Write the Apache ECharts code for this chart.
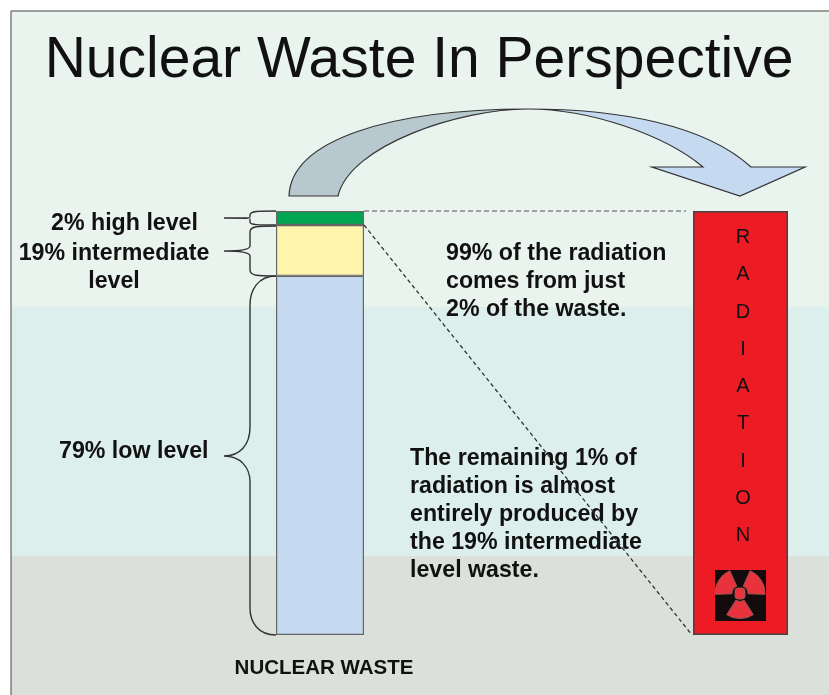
<!DOCTYPE html>
<html>
<head>
<meta charset="utf-8">
<style>html,body{margin:0;padding:0;background:#fff}#main{width:829px;height:695px}</style>
<script src="https://cdn.jsdelivr.net/npm/echarts@6/dist/echarts.min.js"></script>
</head>
<body>
<div id="main"></div>
<script>
var titleText = 'Nuclear Waste In Perspective';
var wasteName = ['NUCLEAR WASTE'];
var radiationName = ['RADIATION'];
// bar heights as drawn in the picture, % of the column (not to scale with the labels)
var lowHeight = [84.7];
var intermediateHeight = [12];
var highHeight = [3.3];
var radiationHeight = [100];
var radiationLetters = ['R', 'A', 'D', 'I', 'A', 'T', 'I', 'O', 'N'];
var leftNotes = ['2% high level', '19% intermediate', 'level', '79% low level'];
var note99 = ['99% of the radiation', 'comes from just', '2% of the waste.'];
var note1 = ['The remaining 1% of', 'radiation is almost', 'entirely produced by', 'the 19% intermediate', 'level waste.'];

var font = '"Liberation Sans", Arial, sans-serif';
var myChart = echarts.init(document.getElementById('main'));

function band(y, h, color) {
    return { type: 'rect', z: -10, shape: { x: 11, y: y, width: 818, height: h }, style: { fill: color } };
}
// the graphic component has no free path type, so each svg path gets registered as a shape
var pathCount = 0;
function svgPath(d, style) {
    var name = 'svgPath' + pathCount++;
    echarts.graphic.registerShape(name, echarts.graphic.extendPath(d, {}));
    return { type: name, z: 5, style: style };
}
function brace(d) {
    return svgPath(d, { fill: 'none', stroke: '#333', lineWidth: 1.4 });
}
function note(text, x, y, align) {
    return { type: 'text', z: 10, x: x, y: y, style: {
        text: text, fill: '#111', font: 'bold 23.2px ' + font, align: align || 'left', verticalAlign: 'middle'
    } };
}
function blade(a, b) {
    return { type: 'sector', z: 11, shape: { cx: 740, cy: 593.5, r0: 8, r: 25, startAngle: a * Math.PI / 180, endAngle: b * Math.PI / 180 },
        style: { fill: '#e8333f', stroke: '#9a5550', lineWidth: 1 } };
}

var elements = [
    band(11, 296, '#eaf4ee'),
    band(307, 249, '#dcefec'),
    band(556, 139, '#dbe0da'),
    // frame
    { type: 'polyline', z: -9, shape: { points: [[11, 695], [11, 11], [829, 11]] }, style: { fill: 'none', stroke: '#444', lineWidth: 1 } },
    // curved arrow
    svgPath('M289 196 C291 140 390 109 528 109 C460 109 350 145 338 196 Z', { fill: '#b8c8cf', stroke: '#333', lineWidth: 1.2 }),
    svgPath('M528 109 C620 109 705 125 751 167 L805 167 L740 196 L652 167 L703 167 C665 135 590 109 528 109 Z', { fill: '#c5daf1', stroke: '#333', lineWidth: 1.2 }),
    // dashed links between the columns
    { type: 'line', z: 5, shape: { x1: 364, y1: 211, x2: 686, y2: 211 }, style: { stroke: '#888', lineWidth: 1.5, lineDash: [5, 3] } },
    { type: 'line', z: 12, shape: { x1: 364, y1: 225, x2: 692, y2: 635 }, style: { stroke: '#333', lineWidth: 1.3, lineDash: [4, 3] } },
    // braces
    brace('M276 211 C258 211 250 211 250 215 L250 217 C250 218 240 218 224 218 C240 218 250 218 250 219 L250 222 C250 225 258 225 276 225'),
    brace('M276 226 C258 226 250 226 250 232 L250 246 C250 250 240 251 224 251 C240 251 250 252 250 256 L250 270 C250 276 258 276 276 276'),
    brace('M276 276 C258 276 250 290 250 305 L250 427 C250 445 240 456 224 456 C240 456 250 467 250 482 L250 608 C250 622 258 635 276 635'),
    note(leftNotes[0], 124.5, 224, 'center'),
    note(leftNotes[1], 114, 254, 'center'),
    note(leftNotes[2], 114, 282, 'center'),
    note(leftNotes[3], 59, 452)
];
note99.forEach(function (t, i) { elements.push(note(t, 446, 254 + i * 28)); });
note1.forEach(function (t, i) { elements.push(note(t, 410, 459 + i * 28)); });
// radiation symbol
elements.push({ type: 'rect', z: 10, shape: { x: 715, y: 570, width: 51, height: 51 }, style: { fill: '#140c0c' } });
elements.push(blade(178, 246), blade(294, 362), blade(58, 122));
elements.push({ type: 'rect', z: 11, shape: { x: 735, y: 588, width: 10, height: 11, r: 3 }, style: { fill: '#e8333f', stroke: '#9a5550', lineWidth: 1 } });

var option = {
    animation: false,
    backgroundColor: '#fff',
    textStyle: { fontFamily: font },
    title: {
        text: titleText,
        left: 414,
        top: 28,
        textAlign: 'center',
        textStyle: { fontFamily: font, fontSize: 57, fontWeight: 'normal', color: '#111' }
    },
    grid: [
        { left: 276, top: 211, width: 88, height: 424, outerBoundsMode: 'none' },
        { left: 693, top: 211, width: 95, height: 424, outerBoundsMode: 'none' }
    ],
    xAxis: [
        { type: 'category', gridIndex: 0, data: wasteName,
            axisLine: { show: false }, axisTick: { show: false },
            axisLabel: { fontSize: 20.5, fontWeight: 'bold', color: '#111', margin: 23, padding: [0, 0, 0, 8], fontFamily: font } },
        { type: 'category', gridIndex: 1, data: radiationName, show: false }
    ],
    yAxis: [
        { type: 'value', gridIndex: 0, min: 0, max: 100, show: false },
        { type: 'value', gridIndex: 1, min: 0, max: 100, show: false }
    ],
    series: [
        { name: 'low', type: 'bar', stack: 'waste', barWidth: '100%', data: lowHeight,
            itemStyle: { color: '#c5daf1', borderColor: '#666', borderWidth: 1.2 } },
        { name: 'intermediate', type: 'bar', stack: 'waste', barWidth: '100%', data: intermediateHeight,
            itemStyle: { color: '#fff5ad', borderColor: '#666', borderWidth: 1.2 } },
        { name: 'high', type: 'bar', stack: 'waste', barWidth: '100%', data: highHeight,
            itemStyle: { color: '#00a651', borderColor: '#666', borderWidth: 1.2 } },
        { name: 'radiation', type: 'bar', xAxisIndex: 1, yAxisIndex: 1, barWidth: '100%', data: radiationHeight,
            itemStyle: { color: '#ed1c24', borderColor: '#444', borderWidth: 1.5 },
            label: {
                show: true, position: 'insideTop', distance: 8, padding: [0, 0, 0, 5],
                formatter: radiationLetters.join('\n'),
                color: '#111', fontSize: 20, lineHeight: 37.25, fontFamily: font
            } }
    ],
    graphic: { elements: elements }
};

myChart.setOption(option);
</script>
</body>
</html>
